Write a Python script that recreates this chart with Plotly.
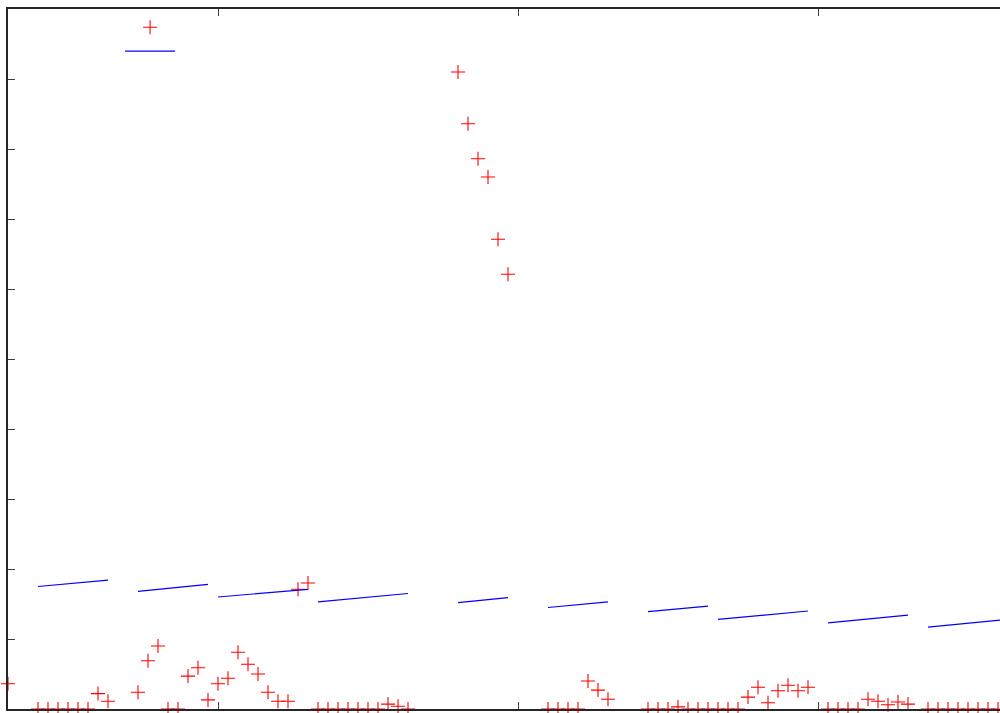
import plotly.graph_objects as go

# Sample index of every observation and its measured value
sample_idx = [0, 3, 4, 5, 6, 7, 8, 9, 10,
              13, 14, 15, 16, 17, 18, 19, 20,
              21, 22, 23, 24, 25, 26, 27, 28, 29, 30,
              31, 32, 33, 34, 35, 36, 37, 38, 39, 40,
              45, 46, 47, 48, 49, 50,
              54, 55, 56, 57, 58, 59, 60,
              64, 65, 66, 67, 68, 69, 70,
              71, 72, 73, 74, 75, 76, 77, 78, 79, 80,
              82, 83, 84, 85, 86, 87, 88, 89, 90,
              92, 93, 94, 95, 96, 97, 98, 99]
sample_val = [0.36, 0, 0, 0, 0, 0, 0, 0.22, 0.11,
              0.24, 0.69, 0.90, 0, 0, 0.47, 0.59, 0.13,
              0.36, 0.44, 0.81, 0.64, 0.50, 0.24, 0.11, 0.11, 1.71, 1.80,
              0, 0, 0, 0, 0, 0, 0, 0.07, 0.04, 0,
              9.10, 8.36, 7.86, 7.60, 6.71, 6.21,
              0, 0, 0, 0, 0.40, 0.27, 0.14,
              0, 0, 0, 0.03, 0, 0, 0,
              0, 0, 0, 0.17, 0.31, 0.09, 0.26, 0.34, 0.26, 0.31,
              0, 0, 0, 0, 0.14, 0.11, 0.06, 0.10, 0.07,
              0, 0, 0, 0, 0, 0, 0, 0]

# Piecewise trend: one straight segment per block of samples
seg_start_x = [3, 13, 21, 31, 45, 54, 64, 71, 82, 92]
seg_end_x = [10, 20, 30, 40, 50, 60, 70, 80, 90, 100]
seg_start_y = [1.75, 1.68, 1.60, 1.53, 1.52, 1.45, 1.39, 1.28, 1.23, 1.17]
seg_end_y = [1.84, 1.78, 1.71, 1.65, 1.59, 1.53, 1.47, 1.40, 1.34, 1.28]

x_ticks = [21, 51, 81]
y_ticks = [1, 2, 3, 4, 5, 6, 7, 8, 9]

trend_x, trend_y = [], []
for x0, x1, y0, y1 in zip(seg_start_x, seg_end_x, seg_start_y, seg_end_y):
    trend_x += [x0, x1, None]
    trend_y += [y0, y1, None]

fig = go.Figure()
fig.add_trace(go.Scatter(
    x=sample_idx, y=sample_val, mode="markers", name=" ",
    marker=dict(symbol="cross-thin-open", size=10, color="#ff0000",
                line=dict(color="#ff0000", width=1.1)),
    cliponaxis=False,
))
fig.add_trace(go.Scatter(
    x=trend_x, y=trend_y, mode="lines", name=" ",
    line=dict(color="#0000ff", width=1.2),
    connectgaps=False,
))

axis_common = dict(
    showgrid=False, zeroline=False, showline=True,
    linecolor="#262626", linewidth=1.6,
    ticks="inside", ticklen=7, tickcolor="#404040", tickwidth=1.2,
    showticklabels=False,
)
fig.update_xaxes(range=[0, 99.2], tickvals=x_ticks, mirror="ticks", **axis_common)
fig.update_yaxes(range=[0, 10], tickvals=y_ticks, mirror=False, **axis_common)

fig.update_layout(
    width=1000, height=713,
    margin=dict(l=8, r=0, t=9, b=4),
    paper_bgcolor="white", plot_bgcolor="white",
    showlegend=True,
    legend=dict(x=0.113, y=0.998, xanchor="left", yanchor="top",
                bgcolor="rgba(0,0,0,0)", borderwidth=0,
                itemwidth=50, font=dict(size=16, family="DejaVu Sans")),
)

fig.write_html("out.html")
